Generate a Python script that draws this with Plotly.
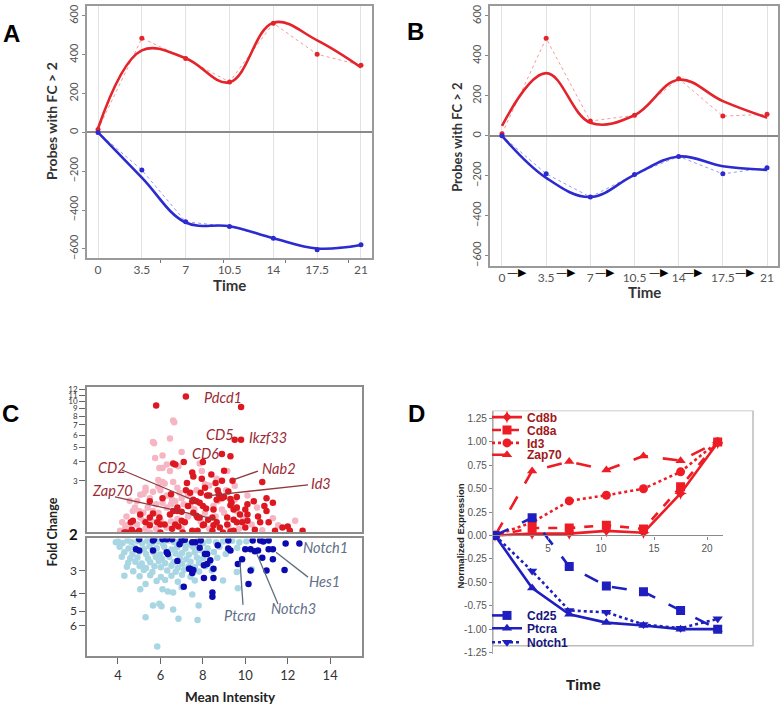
import numpy as np
import plotly.graph_objects as go

W, H = 782, 712
def fx(p): return p / W
def fy(p): return 1 - p / H

# ---------------- data ----------------
time = [0, 3.5, 7, 10.5, 14, 17.5, 21]
time_labels = ["0", "3.5", "7", "10.5", "14", "17.5", "21"]

# Panel A
a_up_obs = [15, 485, 380, 260, 562, 402, 346]
a_up_fit = [20, 422, 382, 258, 565, 474, 335]
a_dn_obs = [0, -194, -460, -485, -545, -604, -579]
a_dn_fit = [0, -233, -464, -483, -545, -598, -580]
# Panel B
b_up_obs = [11, 488, 74, 103, 286, 99, 108]
b_up_fit = [50, 314, 66, 103, 281, 174, 91]
b_dn_obs = [0, -190, -306, -193, -103, -190, -160]
b_dn_fit = [0, -210, -306, -195, -103, -152, -170]

# Panel C (mean intensity, fold change)
c_up_dark = [
    (7.2, 10.8), (5.8, 9.4), (9.8, 9.2), (9.5, 5.6), (9.8, 5.6), (8.9, 4.5), (9.3, 4.35), (7.1, 4.0),
    (6.6, 3.9), (8.0, 4.0), (7.5, 3.4), (7.55, 3.2), (8.4, 3.3), (9.0, 3.5), (9.4, 3.0), (8.9, 3.0),
    (7.25, 2.9), (7.2, 2.6), (10.8, 2.95), (8.7, 2.6), (8.2, 2.4), (8.3, 2.4), (9.0, 2.35), (8.9, 2.3),
    (9.6, 2.35), (11.0, 2.3), (6.1, 2.3), (7.7, 2.2), (7.5, 2.2), (10.1, 2.1), (10.9, 2.05), (9.3, 2.07),
    (5.5, 2.2), (6.7, 3.85), (8.0, 2.05), (8.65, 2.25), (5.05, 1.8), (4.6, 1.6), (4.4, 1.37), (5.3, 1.6),
    (5.5, 1.53), (6.0, 1.55), (6.45, 1.8), (6.8, 1.9), (6.7, 1.55), (7.15, 1.6), (7.55, 1.85), (7.75, 1.72),
    (8.0, 1.53), (8.45, 1.72), (8.65, 1.6), (8.8, 1.48), (9.15, 1.72), (9.45, 1.94), (9.75, 1.8), (9.85, 1.6),
    (10.0, 1.48), (9.45, 1.41), (8.95, 1.37), (8.45, 1.41), (7.75, 1.41), (7.05, 1.37), (6.0, 1.37), (4.9, 1.37),
    (5.5, 1.72), (6.8, 2.0), (7.3, 2.05), (4.3, 1.37), (4.65, 1.43), (4.7, 1.64), (5.0, 1.41), (5.65, 1.83),
    (5.95, 1.72), (5.85, 1.6), (6.2, 1.55), (6.55, 1.45), (6.85, 1.5), (7.0, 1.64), (7.5, 1.41), (7.7, 1.77),
    (7.85, 1.72), (8.05, 1.55), (8.25, 1.66), (8.5, 1.53), (9.15, 1.55), (9.3, 1.39), (9.45, 1.66), (9.6, 1.6),
    (10.1, 1.8), (10.1, 1.64), (10.45, 1.43), (10.7, 1.6), (11.0, 1.9), (11.1, 1.6), (11.4, 1.41), (11.75, 1.48),
    (12.0, 1.5), (12.1, 1.41), (12.7, 1.41), (7.55, 2.25), (7.85, 2.15), (8.5, 1.94), (9.3, 2.28), (10.0, 1.94),
    (7.0, 1.88), (6.6, 1.9), (8.1, 2.7), (7.9, 2.5), (8.6, 2.9), (9.2, 2.55), (9.6, 2.0), (7.4, 2.5),
    (6.5, 2.45), (7.95, 3.1), (8.75, 2.45), (9.35, 2.15), (8.15, 1.97), (10.4, 2.2), (10.6, 1.75), (11.3, 2.15),
]
c_up_light = [
    (6.6, 7.5), (6.65, 7.3), (5.65, 5.4), (5.7, 5.3), (6.45, 5.7), (5.75, 4.24), (7.0, 4.65), (6.3, 3.85),
    (5.95, 3.65), (6.1, 3.65), (6.85, 3.75), (7.85, 3.9), (7.95, 3.48), (6.1, 2.95), (6.2, 2.88), (6.6, 2.95),
    (8.1, 2.85), (8.3, 2.8), (8.65, 3.1), (9.15, 3.48), (9.5, 2.78), (5.3, 2.7), (5.65, 2.54), (5.05, 2.43),
    (5.2, 2.46), (4.55, 2.22), (6.45, 2.4), (6.9, 2.5), (8.5, 2.05), (10.55, 2.0), (4.7, 1.9), (4.1, 1.41),
    (4.35, 1.53), (4.7, 1.6), (5.2, 1.64), (5.05, 1.72), (12.35, 1.64), (11.55, 1.53), (9.6, 1.9), (8.9, 1.94),
    (6.1, 4.4), (6.45, 3.48), (5.9, 3.04), (5.3, 2.58), (4.8, 2.0), (4.2, 1.6), (4.35, 1.48), (5.65, 1.9),
    (6.1, 2.15), (6.55, 2.25), (8.5, 1.94), (9.5, 2.25), (10.1, 2.4), (6.3, 1.48), (5.5, 1.37), (4.5, 1.45),
    (4.9, 1.55), (5.3, 1.45), (5.8, 1.45), (6.0, 1.65), (6.5, 1.62), (7.0, 1.45), (7.3, 1.75), (7.9, 1.62),
    (8.3, 1.45), (8.6, 1.75), (9.2, 1.5), (9.7, 1.45), (10.3, 1.55), (10.8, 1.42), (11.3, 1.7), (5.6, 1.62),
    (6.8, 1.68), (4.4, 1.75), (5.0, 1.9), (5.9, 1.85), (6.3, 2.0), (7.1, 2.1), (7.6, 1.95), (8.1, 1.85),
    (9.0, 1.85), (9.9, 1.7), (5.5, 2.3), (5.8, 2.1), (6.0, 2.6), (6.3, 2.4), (6.7, 2.2), (5.4, 2.0),
    (6.8, 2.7), (7.3, 2.4), (7.7, 2.6), (5.9, 2.75), (6.5, 2.1), (7.0, 2.3), (7.4, 2.05), (4.9, 2.2),
    (5.2, 1.85), (8.7, 2.2), (9.1, 2.6),
]
c_dn_dark = [
    (5.0, 2.02), (4.85, 2.29), (5.65, 2.33), (5.7, 2.02), (6.3, 2.38), (6.35, 2.43), (6.55, 2.02), (6.1, 2.02),
    (6.8, 2.66), (7.0, 2.05), (7.15, 2.03), (7.5, 2.1), (7.65, 2.1), (7.85, 2.25), (7.9, 2.05), (8.1, 2.43),
    (8.35, 2.63), (8.05, 2.8), (7.4, 2.93), (7.55, 2.98), (7.5, 3.09), (7.35, 2.93), (8.5, 2.93), (8.05, 3.29),
    (7.1, 3.68), (8.45, 3.95), (8.45, 4.17), (8.7, 2.18), (9.2, 2.05), (9.3, 2.33), (9.2, 2.27), (10.0, 2.29),
    (9.65, 2.76), (9.85, 2.6), (10.35, 2.05), (10.7, 2.05), (10.85, 2.08), (11.1, 2.05), (10.25, 2.29), (10.45, 2.35),
    (10.6, 2.33), (10.8, 2.55), (11.1, 2.29), (11.3, 2.29), (11.3, 2.6), (11.0, 3.0), (10.25, 3.0), (10.15, 3.55),
    (11.9, 2.13), (12.55, 2.13), (11.85, 2.98), (5.0, 2.33), (8.2, 2.43), (8.2, 2.76), (6.9, 2.15), (6.3, 2.02),
    (5.65, 2.05), (8.5, 3.29),
]
c_dn_light = [
    (4.0, 2.08), (4.22, 2.12), (4.45, 2.05), (4.63, 2.1), (4.92, 2.07), (5.14, 2.13), (5.38, 2.06), (5.62, 2.11),
    (5.88, 2.08), (6.12, 2.14), (6.38, 2.05), (6.64, 2.1), (6.87, 2.07), (7.12, 2.12), (7.36, 2.15), (7.72, 2.07),
    (8.02, 2.12), (8.28, 2.06), (8.62, 2.1), (8.95, 2.08), (9.38, 2.06), (9.72, 2.1), (10.05, 2.07), (3.9, 2.1),
    (4.08, 2.22), (4.5, 2.27), (4.78, 2.24), (5.22, 2.29), (5.48, 2.21), (5.83, 2.26), (6.18, 2.23), (6.52, 2.3),
    (6.78, 2.24), (7.18, 2.27), (7.53, 2.22), (7.88, 2.31), (8.22, 2.26), (8.78, 2.22), (9.18, 2.28), (9.62, 2.25),
    (4.3, 2.38), (4.68, 2.43), (5.02, 2.36), (5.33, 2.44), (5.68, 2.39), (5.98, 2.45), (6.28, 2.37), (6.72, 2.42),
    (7.02, 2.4), (7.34, 2.46), (7.62, 2.38), (8.08, 2.41), (8.52, 2.37), (9.08, 2.43),
    (4.18, 2.52), (4.58, 2.57), (4.92, 2.54), (5.42, 2.58), (5.78, 2.53), (6.08, 2.59), (6.42, 2.52), (6.92, 2.56),
    (7.22, 2.6), (7.72, 2.54), (8.02, 2.57), (8.68, 2.55),
    (4.48, 2.72), (4.82, 2.68), (5.12, 2.74), (5.52, 2.7), (5.92, 2.66), (6.22, 2.73), (6.62, 2.69), (7.02, 2.75),
    (7.42, 2.68), (7.82, 2.72), (8.32, 2.7),
    (4.42, 2.86), (5.02, 2.83), (5.32, 2.9), (5.72, 2.84), (6.02, 2.88), (6.52, 2.82), (6.82, 2.9), (7.32, 2.85),
    (7.62, 2.88), (8.12, 2.84),
    (4.72, 3.02), (5.22, 2.98), (5.62, 3.05), (6.32, 3.0), (6.72, 3.04), (7.12, 2.97), (7.82, 3.03), (8.42, 3.0),
    (5.02, 3.22), (5.52, 3.18), (6.02, 3.25), (6.52, 3.2), (7.02, 3.16), (7.42, 3.24),
    (5.82, 3.42), (6.22, 3.38), (6.82, 3.45), (7.62, 3.4),
    (4.3, 3.2), (5.05, 3.8), (5.3, 3.55), (5.65, 4.65), (5.95, 4.55), (6.05, 4.7), (5.3, 5.4), (6.6, 4.9),
    (6.85, 5.5), (7.75, 5.6), (7.8, 4.65), (5.85, 7.8), (6.35, 3.9), (6.1, 3.8), (6.6, 3.95), (7.5, 4.05),
    (7.0, 3.7), (8.95, 3.4), (9.65, 3.75), (9.6, 3.05), (10.3, 2.95),
]
c_up_ticks = [3, 4, 5, 6, 7, 8, 9, 10, 11, 12]
c_dn_ticks = [3, 4, 5, 6]
c_x_ticks = [4, 6, 8, 10, 12, 14]

# Panel D (normalized expression)
d_red = {
    "Cd8b": [0, 0.02, 0.02, 0.05, 0.03, 0.45, 0.99],
    "Cd8a": [0, 0.08, 0.08, 0.11, 0.07, 0.52, 1.0],
    "Id3": [0, 0.14, 0.37, 0.43, 0.50, 0.68, 1.0],
    "Zap70": [0, 0.69, 0.79, 0.70, 0.85, 0.80, 1.0],
}
d_blue = {
    "Cd25": [0, 0.19, -0.33, -0.54, -0.60, -0.80, -1.0],
    "Ptcra": [0, -0.56, -0.84, -0.93, -0.96, -1.0, -1.0],
    "Notch1": [0, -0.38, -0.80, -0.82, -0.95, -0.99, -0.89],
}
d_yticks = [-1.25, -1.0, -0.75, -0.5, -0.25, 0, 0.25, 0.5, 0.75, 1.0, 1.25]

# ---------------- figure ----------------
RED = "#e3242b"
BLUE = "#2b2bd0"
fig = go.Figure()

def ab_traces(xa, ya, up_obs, up_fit, dn_obs, dn_fit):
    for obs, fit, lc, dc in ((up_obs, up_fit, RED, "#f39a9a"), (dn_obs, dn_fit, BLUE, "#9898ee")):
        fig.add_trace(go.Scatter(x=time, y=obs, mode="lines+markers", xaxis=xa, yaxis=ya,
                                 line=dict(color=dc, width=1, dash="dot"),
                                 marker=dict(color=lc, size=5), showlegend=False))
        fig.add_trace(go.Scatter(x=time, y=fit, mode="lines", xaxis=xa, yaxis=ya,
                                 line=dict(color=lc, width=2.6, shape="spline", smoothing=1.1),
                                 showlegend=False))

ab_traces("x", "y", a_up_obs, a_up_fit, a_dn_obs, a_dn_fit)
ab_traces("x2", "y2", b_up_obs, b_up_fit, b_dn_obs, b_dn_fit)

def sc(pts, color, xa, ya):
    fig.add_trace(go.Scatter(x=[p[0] for p in pts], y=[p[1] for p in pts], mode="markers",
                             xaxis=xa, yaxis=ya, marker=dict(color=color, size=6.5),
                             showlegend=False))

sc(c_up_light, "#f6b5c2", "x3", "y3")
sc(c_up_dark, "#dd1820", "x3", "y3")
sc(c_dn_light, "#a9d6e3", "x4", "y4")
sc(c_dn_dark, "#0b0bb0", "x4", "y4")

# one legend box per gene so the entries can sit as close together as in the original
red_styles = {"Cd8b": ("solid", "star-diamond", "legend", 404),
              "Cd8a": ("dash", "square", "legend2", 417),
              "Id3": ("dot", "circle", "legend3", 430),
              "Zap70": ("longdash", "triangle-up", "legend4", 442)}
blue_styles = {"Cd25": ("longdash", "square", "legend5", 604),
               "Ptcra": ("solid", "triangle-up", "legend6", 617),
               "Notch1": ("dot", "triangle-down", "legend7", 631)}
DRED = "#ee1c24"
DBLUE = "#1f1fbf"
legends = {}

def leg(ytop, color):
    return dict(x=fx(487), y=fy(ytop), xanchor="left", yanchor="top", bgcolor="rgba(0,0,0,0)",
                font=dict(family="Liberation Sans", size=12, color=color, weight="bold"),
                tracegroupgap=0, itemwidth=30)

for name, vals in d_red.items():
    dash, sym, lg, ytop = red_styles[name]
    legends[lg] = leg(ytop, "#a01818")
    fig.add_trace(go.Scatter(x=time, y=vals, mode="lines+markers", name=name, xaxis="x5", yaxis="y5",
                             line=dict(color=DRED, width=2.6, dash=dash),
                             marker=dict(color=DRED, size=9, symbol=sym), legend=lg))
for name, vals in d_blue.items():
    dash, sym, lg, ytop = blue_styles[name]
    legends[lg] = leg(ytop, "#16167a")
    fig.add_trace(go.Scatter(x=time, y=vals, mode="lines+markers", name=name, xaxis="x5", yaxis="y5",
                             line=dict(color=DBLUE, width=2.6, dash=dash),
                             marker=dict(color=DBLUE, size=9, symbol=sym), legend=lg))

tickf = dict(family="Lato", size=12, color="#555")
frame = "#9a9a9a"

layout = dict(
    width=W, height=H, margin=dict(l=0, r=0, t=0, b=0),
    paper_bgcolor="white", plot_bgcolor="white",
    # A
    xaxis=dict(domain=[fx(87), fx(372)], range=[-0.88, 21.88], anchor="y",
               tickmode="array", tickvals=time, ticktext=time_labels, tickfont=tickf,
               showgrid=True, gridcolor="#e2e2e2", gridwidth=1.2, zeroline=False,
               showline=True, mirror=True, linecolor=frame, linewidth=1.5, ticks="",
               minor=dict(tickvals=[5, 10, 15, 20], ticks="outside", ticklen=3, tickcolor="#777")),
    yaxis=dict(domain=[fy(258), fy(4)], range=[-646, 651], anchor="x",
               tickmode="array", tickvals=[-600, -400, -200, 0, 200, 400, 600], tickangle=-90,
               tickfont=dict(family="Lato", size=11, color="#555"),
               showgrid=False, zeroline=True, zerolinecolor="#8a8a8a", zerolinewidth=1.5,
               showline=True, mirror=True, linecolor=frame, linewidth=1.5, ticks="outside",
               ticklen=3, tickcolor="#888"),
    # B
    xaxis2=dict(domain=[fx(490), fx(778)], range=[-0.95, 21.87], anchor="y2",
                tickmode="array", tickvals=time, ticktext=time_labels, tickfont=tickf,
                showgrid=True, gridcolor="#e2e2e2", gridwidth=1.2, zeroline=False,
                showline=True, mirror=True, linecolor=frame, linewidth=1.5, ticks=""),
    yaxis2=dict(domain=[fy(266), fy(4)], range=[-650, 650], anchor="x2",
                tickmode="array", tickvals=[-600, -400, -200, 0, 200, 400, 600], tickangle=-90,
                tickfont=dict(family="Lato", size=11, color="#555"),
                showgrid=False, zeroline=True, zerolinecolor="#8a8a8a", zerolinewidth=1.5,
                showline=True, mirror=True, linecolor=frame, linewidth=1.5, ticks="outside",
                ticklen=3, tickcolor="#888"),
    # C top
    xaxis3=dict(domain=[fx(87), fx(362)], range=[2.54, 15.5], anchor="y3",
                showticklabels=False, ticks="", showgrid=False, zeroline=False,
                showline=True, mirror=True, linecolor="#8c8c8c", linewidth=1.5),
    yaxis3=dict(domain=[fy(535), fy(388)], type="log", range=[0.137, 1.097], anchor="x3",
                tickmode="array", tickvals=c_up_ticks, ticktext=[str(v) for v in c_up_ticks],
                tickfont=dict(family="Lato", size=8, color="#333"),
                ticks="outside", ticklen=6, tickcolor="#666", showgrid=False, zeroline=False,
                showline=True, mirror=True, linecolor="#8c8c8c", linewidth=1.5),
    # C bottom
    xaxis4=dict(domain=[fx(87), fx(362)], range=[2.54, 15.5], anchor="y4",
                tickmode="array", tickvals=c_x_ticks, tickfont=dict(family="Lato", size=13, color="#333"),
                ticks="outside", ticklen=6, tickcolor="#666", showgrid=False, zeroline=False,
                showline=True, mirror=True, linecolor="#8c8c8c", linewidth=1.5),
    yaxis4=dict(domain=[fy(660), fy(541)], type="log", range=[0.947, 0.301], anchor="x4",
                tickmode="array", tickvals=c_dn_ticks, ticktext=[str(v) for v in c_dn_ticks],
                tickfont=dict(family="Lato", size=12, color="#333"),
                ticks="outside", ticklen=6, tickcolor="#666", showgrid=False, zeroline=False,
                showline=True, mirror=True, linecolor="#8c8c8c", linewidth=1.5),
    # D
    xaxis5=dict(domain=[fx(493), fx(723)], range=[-0.19, 21.5], anchor="free", position=fy(538),
                tickmode="array", tickvals=[5, 10, 15, 20],
                tickfont=dict(family="Liberation Sans", size=10, color="#555"),
                ticks="outside", ticklen=3, tickcolor="#888", showgrid=False, zeroline=False,
                showline=True, linecolor="#8a8a8a", linewidth=1.3),
    yaxis5=dict(domain=[fy(658), fy(412)], range=[-1.27, 1.335], anchor="x5",
                tickmode="array", tickvals=d_yticks, ticktext=["%.2f" % v for v in d_yticks],
                tickfont=dict(family="Liberation Sans", size=10, color="#555"),
                ticks="outside", ticklen=3, tickcolor="#888", showgrid=False, zeroline=False,
                showline=True, linecolor="#aaaaaa", linewidth=1.3),
    **legends,
)
fig.update_layout(**layout)

shapes = []
# frame of panel D
shapes.append(dict(type="rect", xref="paper", yref="y5", x0=fx(493), x1=fx(753), y0=-1.176, y1=1.335,
                   line=dict(color="#bdbdbd", width=1.5), layer="below"))
# leader lines in panel C
leaders_red = [((122, 472), (197, 504)), ((115, 499), (217, 522)), ((258, 473), (233, 482)), ((308, 487), (207, 498))]
leaders_blue = [((308, 580), (276, 555)), ((278, 607), (257, 557)), ((243, 608), (240, 565))]
for (p0, p1) in leaders_red:
    shapes.append(dict(type="line", xref="paper", yref="paper", x0=fx(p0[0]), y0=fy(p0[1]),
                       x1=fx(p1[0]), y1=fy(p1[1]), line=dict(color="#8e3a3e", width=1.3)))
for (p0, p1) in leaders_blue:
    shapes.append(dict(type="line", xref="paper", yref="paper", x0=fx(p0[0]), y0=fy(p0[1]),
                       x1=fx(p1[0]), y1=fy(p1[1]), line=dict(color="#5f6f82", width=1.3)))
fig.update_layout(shapes=shapes)

ann = []
def text(t, x, y, size=12, color="black", family="Lato", bold=False, italic=False, angle=0):
    ann.append(dict(text=t, x=fx(x), y=fy(y), xref="paper", yref="paper", showarrow=False,
                    xanchor="center", yanchor="middle", textangle=angle,
                    font=dict(size=size, color=color, family=family,
                              weight="bold" if bold else "normal",
                              style="italic" if italic else "normal")))

# panel letters
for t, x, y in (("A", 11, 32), ("B", 415, 30), ("C", 10, 415), ("D", 416, 415)):
    text(t, x, y, size=24, family="Liberation Sans", bold=True)
# A, B titles
text("Time", 229, 285, size=15, color="#333", bold=True)
text("Time", 644, 292, size=15, color="#333", bold=True)
text("Probes with FC > 2", 52, 120, size=14, color="#333", bold=True, angle=-90)
text("Probes with FC > 2", 457, 137, size=13, color="#333", bold=True, angle=-90)
# B arrows between time labels
for xp in (517, 566, 605, 659, 693, 745):
    text("\u2014\u25B6", xp, 273, size=11, family="DejaVu Sans")
# C titles
text("Fold Change", 52, 535, size=12.5, color="#222", bold=True, angle=-90)
text("Mean Intensity", 230, 701, size=13.5, color="#222", bold=True)
text("2", 73, 537, size=15, color="#111", bold=True)
# C gene labels
for t, x, y in (("Pdcd1", 223, 399), ("CD5", 220, 436), ("Ikzf33", 268, 439), ("CD6", 205, 455),
                ("CD2", 112, 469), ("Nab2", 279, 470), ("Id3", 321, 486), ("Zap70", 112, 493)):
    text(t, x, y, size=14.5, color="#9a2a33", italic=True)
for t, x, y in (("Notch1", 325, 550), ("Hes1", 324, 584), ("Notch3", 293, 612), ("Ptcra", 240, 619)):
    text(t, x, y, size=14.5, color="#5f7088", italic=True)
# D titles
text("Normalized Expression", 460, 539, size=9.5, color="#222", family="Liberation Sans", bold=True, angle=-90)
text("Time", 583, 688, size=15, color="#222", family="Liberation Sans", bold=True)
fig.update_layout(annotations=ann)

fig.write_html("out.html", config={"displayModeBar": False},
               post_script="document.body.style.margin='0px';")
